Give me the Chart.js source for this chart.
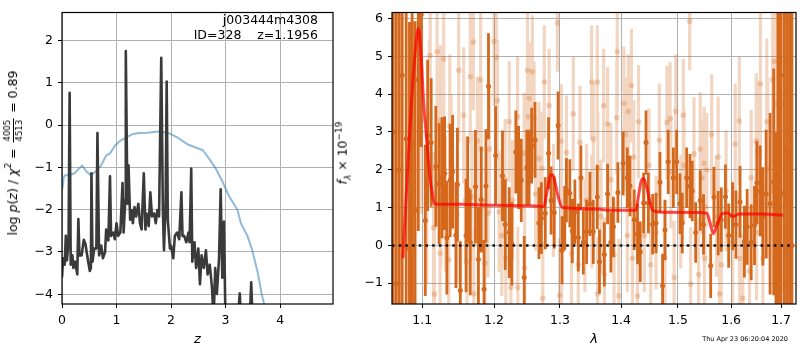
<!DOCTYPE html>
<html>
<head>
<meta charset="utf-8">
<script src="https://cdn.jsdelivr.net/npm/chart.js@4"></script>
<style>
  body { margin: 0; background: #fff; }
  #wrap { position: relative; width: 800px; height: 350px; font-family: 'DejaVu Sans', sans-serif; color: #000; }
  canvas { position: absolute; top: 0; }
  .rot { position: absolute; white-space: nowrap; font-size: 12.5px; transform: translate(-50%, -50%) rotate(-90deg); }
  .frac { display: inline-flex; flex-direction: column; vertical-align: middle; font-size: 8.5px; line-height: 1; text-align: center; margin: 0 2px; }
  .frac .num { border-bottom: 1px solid #000; padding: 0 1px 1px; }
  .frac .den { padding-top: 1px; }
  .note { position: absolute; right: 482px; top: 12px; font-size: 12.5px; text-align: right; line-height: 15px; white-space: pre; }
  .stamp { position: absolute; right: 12px; top: 335px; font-size: 6.5px; white-space: nowrap; }
</style>
</head>
<body>
<div id="wrap">
  <canvas id="pzChart" width="340" height="350" style="left:0"></canvas>
  <canvas id="specChart" width="460" height="350" style="left:340px"></canvas>
  <div class="rot" style="left:13px; top:153px">log <i>p</i>(<i>z</i>) / <i>χ</i><sup style="font-size:9px">2</sup> = <span class="frac"><span class="num">4005</span><span class="den">4513</span></span> = 0.89</div>
  <div class="rot" style="left:343px; top:153px"><i>f</i><sub style="font-size:9px"><i>λ</i></sub> × 10<sup style="font-size:9px">−19</sup></div>
  <div class="note">j003444m4308
ID=328    z=1.1956</div>
  <div class="stamp">Thu Apr 23 06:20:04 2020</div>
</div>
<script>
// ---- left panel: p(z) and chi2 curves ----
const zTicks = [0, 1, 2, 3, 4];
const pzTicks = [-4, -3, -2, -1, 0, 1, 2];

const pzZ = [0, 0.02, 0.05, 0.07, 0.09, 0.12, 0.14, 0.16, 0.19, 0.21,
  0.24, 0.28, 0.30, 0.32, 0.36, 0.40, 0.43, 0.47, 0.51, 0.53,
  0.54, 0.56, 0.59, 0.63, 0.65, 0.68, 0.72, 0.75, 0.79, 0.81,
  0.85, 0.88, 0.90, 0.94, 0.97, 1.00, 1.03, 1.07, 1.11, 1.13,
  1.16, 1.17, 1.20, 1.22, 1.25, 1.28, 1.30, 1.33, 1.36, 1.40,
  1.43, 1.46, 1.50, 1.53, 1.55, 1.59, 1.62, 1.65, 1.69, 1.72,
  1.75, 1.78, 1.82, 1.85, 1.87, 1.90, 1.92, 1.94, 1.98, 2.00,
  2.04, 2.07, 2.11, 2.15, 2.19, 2.21, 2.24, 2.28, 2.32, 2.34,
  2.37, 2.39, 2.43, 2.46, 2.50, 2.53, 2.56, 2.60, 2.64, 2.67,
  2.71, 2.75, 2.78, 2.81, 2.84, 2.88, 2.91, 2.94, 2.97, 3.00,
  3.05, 3.12, 3.20, 3.26, 3.31, 3.40, 3.47, 3.52, 3.60, 3.75, 3.90];
const pzLog = [-3.6, -3.15, -3.3, -2.62, -3.2, -2.77, 0.76, -3.3, -3.08, -3.38,
  -3.23, -3.53, -2.22, -3.08, -3.08, -2.71, -2.81, -3.15, -3.45, -3.38,
  -1.14, -3.23, -2.92, -2.92, -0.19, -3.08, -2.85, -3.15, -3.0, -2.47,
  -2.73, -1.21, -2.62, -2.54, -2.7, -2.32, -2.62, -2.54, -1.37, -2.54,
  -1.78, 1.75, -1.86, -0.95, -2.24, -2.01, -2.32, -1.94, -2.16, -1.86,
  -2.32, -2.47, -1.14, -2.47, -2.09, -2.39, -1.59, -2.16, -2.09, -2.32,
  -2.01, -2.16, 1.59, -2.01, -2.96, -1.86, 1.03, -2.24, -2.92, -2.85,
  -3.15, -2.62, -2.54, -2.7, -1.59, -2.62, -2.62, -2.77, -2.54, -2.77,
  -1.03, -3.23, -2.77, -3.38, -2.92, -3.76, -3.08, -3.38, -2.96, -3.53,
  -3.3, -3.83, -4.6, -3.38, -3.99, -3.15, -1.52, -3.61, -2.28, -4.8,
  -5.5, -6.0, -5.0, -3.98, -5.5, -6.0, -3.72, -5.5, -7, -9, -11];

const chiZ = [0.01, 0.03, 0.05, 0.14, 0.23, 0.29, 0.37, 0.45, 0.53, 0.63,
  0.72, 0.81, 0.88, 0.97, 1.06, 1.18, 1.30, 1.42, 1.57, 1.76,
  1.94, 2.12, 2.31, 2.45, 2.58, 2.70, 2.82, 2.94, 3.06, 3.22,
  3.28, 3.40, 3.49, 3.59, 3.66, 3.71, 3.80, 3.90];
const chiLog = [-1.5, -1.25, -1.19, -1.18, -1.14, -1.06, -0.96, -1.1, -1.19, -1.08,
  -0.95, -0.72, -0.67, -0.49, -0.38, -0.29, -0.21, -0.19, -0.18, -0.15,
  -0.18, -0.3, -0.46, -0.53, -0.59, -0.8, -1.03, -1.33, -1.67, -2.01,
  -2.32, -2.62, -2.96, -3.49, -3.98, -4.25, -5.0, -6.0];

// ---- right panel: spectrum ----
const waveTicks = [1.1, 1.2, 1.3, 1.4, 1.5, 1.6, 1.7];
const fluxTicks = [-1, 0, 1, 2, 3, 4, 5, 6];

// strong points (dark orange)
const specWave = [1.0615, 1.0655, 1.0695, 1.0735, 1.0787, 1.0830, 1.0865, 1.0904, 1.0947, 1.0985,
  1.1040, 1.1072, 1.1119, 1.1182, 1.1226, 1.1267, 1.1302, 1.1333, 1.1379, 1.1412, 1.1458, 1.1479, 1.1519, 1.1600, 1.1623, 1.1659, 1.1733, 1.1775, 1.1815, 1.1856, 1.1883, 1.1920,
  1.2024, 1.2124, 1.2164, 1.2224, 1.2263, 1.2322, 1.2363, 1.2403, 1.2448, 1.2487, 1.2522, 1.2561, 1.2612, 1.2672, 1.2710, 1.2770, 1.2821, 1.2860, 1.2910, 1.2970, 1.3032, 1.3075, 1.3102, 1.3156, 1.3195, 1.3237, 1.3292, 1.3334, 1.3373, 1.3427, 1.3481, 1.3536,
  1.3601, 1.3638, 1.3719, 1.3773, 1.3828, 1.3870, 1.3946, 1.4035, 1.4106, 1.4153, 1.4224, 1.4282, 1.4330, 1.4388, 1.4430, 1.4471, 1.4547, 1.4607, 1.4677, 1.4723, 1.4766, 1.4824, 1.4917, 1.4977, 1.5037, 1.5079, 1.5160, 1.5221, 1.5263, 1.5326,
  1.5411, 1.5473, 1.5608, 1.5669, 1.5750, 1.5810, 1.5890, 1.5952, 1.6028, 1.6094, 1.6174, 1.6260, 1.6314, 1.6394, 1.6460, 1.6508, 1.6574, 1.6628, 1.6694, 1.6774, 1.6848, 1.6894, 1.6934, 1.6990, 1.7060, 1.7120, 1.7180, 1.7225];
const specFlux = [3.0, -1.0, 2.0, 4.5, 2.82, -0.09, 2.72, 0.93, 4.38, 6.1,
  0.66, 2.91, 2.72, 2.09, 1.63, 1.79, 1.91, 0.20, 1.72, 1.95, 0.27, 1.61, -1.19, 0.26, 1.48, 0.08, 1.55, -0.37, 1.21, -1.16, 1.57, 4.21,
  2.38, 1.84, 0.55, 0.34, 0.04, 2.47, 2.06, 1.72, -0.85, 2.06, 2.06, 2.64, 2.79, 0.59, 0.72, 0.85, 2.44, 1.19, 0.87, 3.17, -0.13, 0.72, 1.46, 1.38, 0.38, 0.89, 0.21, 1.79, 0.08, 0.36, 1.10, 0.36,
  1.28, -0.43, -0.24, 1.36, 0.08, 0.49, 1.40, 2.17, 1.79, 1.57, 0.68, 0.30, -0.17, 1.12, 2.72, 1.12, 0.56, 0.59, 1.67, -1.07, 0.41, 2.21, 1.79, 2.21, 1.10, 0.59, 1.79, 1.57, 1.44, 0.34,
  1.19, 0.55, -0.54, 1.28, 0.59, 0.68, 1.29, 0.26, 0.77, 0.55, 1.15, 0.10, 0.49, 0.08, 0.53, 1.66, 1.44, 0.77, 1.36, 1.10, 1.68, -0.51, 2.89, 4.5, 1.38, 2.5, 3.0, 0.0];
const specErr = [9, 9, 8, 8, 6, 6, 5, 5, 4, 3.5,
  2.0, 2.0, 1.7, 1.6, 1.6, 1.6, 1.5, 1.5, 1.5, 1.5, 1.4, 1.5, 1.3, 1.5, 1.4, 1.4, 1.5, 1.4, 1.4, 1.3, 1.5, 1.4,
  1.3, 1.2, 1.2, 1.2, 1.1, 1.1, 1.1, 1.1, 1.1, 1.0, 1.0, 1.0, 1.0, 0.95, 0.95, 0.95, 0.95, 0.9, 0.95, 0.9, 0.9, 0.85, 0.85, 0.9, 0.85, 0.85, 0.9, 0.85, 0.85, 0.85, 0.85, 0.85,
  0.85, 0.85, 0.85, 0.8, 0.8, 0.8, 0.8, 0.85, 0.8, 0.8, 0.8, 0.8, 0.8, 0.8, 0.85, 0.8, 0.8, 0.8, 0.8, 0.85, 0.8, 0.85, 0.8, 0.85, 0.8, 0.8, 0.8, 0.85, 0.8, 0.8,
  0.8, 0.8, 0.85, 0.8, 0.85, 0.85, 0.85, 0.85, 0.9, 0.9, 0.95, 0.95, 1.0, 1.0, 1.05, 1.1, 1.2, 1.3, 1.7, 2.4, 3.0, 3.5, 5, 7, 8, 9, 10, 10];

// weak points (pale orange)
const weakWave = [1.0839, 1.0882, 1.0992, 1.1061, 1.1106, 1.1095, 1.1152, 1.1162, 1.1199, 1.1244, 1.1250, 1.1240, 1.1290, 1.1314, 1.1359, 1.1373, 1.1392, 1.1475, 1.1497, 1.1566, 1.1590, 1.1613, 1.1659, 1.1682, 1.1704, 1.1710, 1.1760, 1.1807, 1.1815, 1.1866, 1.1912, 1.1935,
  1.2000, 1.2034, 1.2049, 1.2075, 1.2113, 1.2164, 1.2173, 1.2224, 1.2248, 1.2273, 1.2348, 1.2352, 1.2448, 1.2455, 1.2497, 1.2512, 1.2522, 1.2572, 1.2597, 1.2621, 1.2672, 1.2721, 1.2731, 1.2755, 1.2830, 1.2896, 1.2960, 1.2994, 1.3021, 1.3025, 1.3102, 1.3183, 1.3211, 1.3292, 1.3318, 1.3399, 1.3427, 1.3508, 1.3512, 1.3536,
  1.3601, 1.3610, 1.3605, 1.3665, 1.3708, 1.3719, 1.3773, 1.3828, 1.3881, 1.3926, 1.3935, 1.3963, 1.4048, 1.4071, 1.4106, 1.4124, 1.4177, 1.4194, 1.4218, 1.4282, 1.4300, 1.4400, 1.4482, 1.4512, 1.4607, 1.4665, 1.4766, 1.4801, 1.4859, 1.4872, 1.4930, 1.4959, 1.5050, 1.5098, 1.5111, 1.5215, 1.5233, 1.5295,
  1.5381, 1.5411, 1.5442, 1.5484, 1.5490, 1.5503, 1.5534, 1.5626, 1.5718, 1.5750, 1.5777, 1.5810, 1.5902, 1.6028, 1.6080, 1.6160, 1.6165, 1.6228, 1.6360, 1.6394, 1.6494, 1.6500, 1.6528, 1.6580, 1.6628, 1.6708, 1.6728, 1.6828, 1.6860, 1.6894, 1.7014];
const weakFlux = [1.57, 0.26, 3.33, 1.19, 5.02, 3.44, 0.47, -1.29, 5.12, 3.30, 1.32, -0.21, 4.93, 1.10, -0.38, 3.15, 2.21, 0.81, 4.63, 3.44, 1.19, -0.43, 4.46, 1.29, 5.38, -1.28, 2.76, 4.38, 2.55, -0.47, 0.85, 2.55,
  5.40, 4.97, 3.83, 0.89, 0.26, 1.74, -0.34, 3.27, -1.11, 1.19, 3.40, -1.11, 2.44, -0.60, 4.63, 3.40, 3.89, 4.59, 3.36, 1.36, 2.30, 2.04, -1.40, 4.32, 3.70, 1.19, 5.89, -1.32, 2.76, -0.13, 2.46, -0.21, 3.48, -0.51, 2.72, 0.26, 1.19, 4.32, 0.89, 2.81,
  4.32, 2.04, -1.28, 0.77, 3.70, -0.77, 3.21, 1.74, -0.26, 3.38, 5.13, -1.33, 3.76, 2.93, 0.26, 3.55, 4.23, -0.34, 2.34, -1.34, 3.27, 0.26, 2.12, -0.51, 0.34, 2.78, -0.32, 3.25, 3.35, 1.95, -0.85, 3.55, 0.89, 3.44, 2.12, 5.93, -1.02, 2.42,
  -0.77, 2.55, 1.79, 2.17, -0.34, 1.02, 2.00, 2.93, 0.77, 2.34, -1.28, -0.51, 1.44, 0.08, 2.68, 3.29, -0.34, -1.40, -0.68, 1.79, 2.76, 0.34, 2.46, 4.27, -0.34, 3.27, 2.04, 4.38, 4.87, 3.74, 3.72];
const weakErr = [2.5, 2.5, 2.5, 2.2, 2.0, 2.0, 2.0, 1.8, 2.0, 2.0, 1.9, 1.9, 2.0, 1.8, 1.8, 1.9, 1.8, 1.8, 1.9, 1.8, 1.7, 1.7, 1.8, 1.7, 1.8, 1.7, 1.7, 1.8, 1.7, 1.7, 1.7, 1.7,
  1.7, 1.7, 1.6, 1.6, 1.6, 1.6, 1.6, 1.6, 1.6, 1.6, 1.6, 1.6, 1.6, 1.6, 1.6, 1.5, 1.5, 1.5, 1.5, 1.5, 1.5, 1.5, 1.5, 1.5, 1.5, 1.5, 1.3, 1.5, 1.5, 1.5, 1.5, 1.5, 1.5, 1.5, 1.5, 1.5, 1.5, 1.5, 1.5, 1.5,
  1.5, 1.5, 1.5, 1.5, 1.5, 1.5, 1.5, 1.5, 1.5, 1.5, 1.6, 1.5, 1.5, 1.5, 1.5, 1.5, 1.5, 1.5, 1.5, 1.5, 1.5, 1.5, 1.5, 1.5, 1.5, 1.5, 1.5, 1.5, 1.5, 1.5, 1.5, 1.5, 1.5, 1.5, 1.5, 1.3, 1.5, 1.5,
  1.5, 1.5, 1.5, 1.5, 1.5, 1.5, 1.5, 1.6, 1.6, 1.6, 1.6, 1.6, 1.6, 1.6, 1.6, 1.7, 1.7, 1.7, 1.7, 1.8, 1.8, 1.8, 1.9, 2.0, 2.0, 2.2, 2.4, 3.0, 3.5, 4.0, 5.0];

// best-fit model
const modelWave = [1.0744, 1.0800, 1.0860, 1.0915, 1.0948, 1.0985, 1.1014, 1.1050, 1.1083, 1.1110,
  1.1130, 1.1162, 1.1227, 1.1500, 1.2000, 1.2500, 1.2746, 1.2800, 1.2850, 1.2886,
  1.2930, 1.2970, 1.3039, 1.3590, 1.3828, 1.4048, 1.4255, 1.4297, 1.4350, 1.4388,
  1.4430, 1.4459, 1.4546, 1.4700, 1.5387, 1.5534, 1.5596, 1.5657, 1.5731, 1.5829,
  1.5934, 1.6040, 1.6160, 1.6628, 1.7040];
const modelFlux = [-0.34, 1.8, 3.9, 5.3, 5.74, 5.0, 3.91, 3.0, 2.21, 1.7,
  1.44, 1.10, 1.09, 1.09, 1.06, 1.05, 1.03, 1.45, 1.85, 1.87,
  1.6, 1.3, 1.00, 0.96, 0.93, 0.93, 0.93, 1.3, 1.72, 1.77,
  1.6, 1.43, 0.93, 0.88, 0.87, 0.85, 0.60, 0.31, 0.55, 0.84,
  0.86, 0.77, 0.83, 0.83, 0.80];

/* ---------------------------------------------------
    helpers
---------------------------------------------------- */
Chart.defaults.font.family = "'DejaVu Sans', sans-serif";
Chart.defaults.font.size = 12.5;
Chart.defaults.color = "#000";

const ORANGE = "rgb(212,104,28)";
const PALE = "rgba(212,104,28,0.27)";
const GRID = "#b0b0b0";

const pairs = (xs, ys) => xs.map((x, i) => ({ x, y: ys[i] }));
const minus = v => String(v).replace("-", "\u2212");

function errorSegments(xs, ys, es) {
  const out = [];
  xs.forEach((x, i) => {
    out.push({ x, y: ys[i] - es[i] }, { x, y: ys[i] + es[i] }, { x, y: null });
  });
  return out;
}

function axis(type, min, max, tickList, fmt, fixSize, title) {
  return {
    type, min, max,
    afterBuildTicks: s => { s.ticks = tickList.map(v => ({ value: v })); },
    afterFit: fixSize,
    grid: { color: GRID, lineWidth: 1, tickColor: "#000", tickLength: 4, drawTicks: true },
    border: { display: false },
    ticks: { callback: fmt, padding: 5, color: "#000", autoSkip: false, maxRotation: 0 },
    title: title || { display: false }
  };
}

const frame = {
  id: "frame",
  afterDraw(chart) {
    const { ctx, chartArea: a } = chart;
    ctx.save();
    ctx.strokeStyle = "#000";
    ctx.lineWidth = 1.2;
    ctx.strokeRect(a.left, a.top, a.right - a.left, a.bottom - a.top);
    ctx.restore();
  }
};

const zeroLine = {
  id: "zeroLine",
  afterDatasetsDraw(chart) {
    const { ctx, chartArea: a, scales } = chart;
    const y = scales.y.getPixelForValue(0);
    ctx.save();
    ctx.strokeStyle = "#111";
    ctx.lineWidth = 2.5;
    ctx.setLineDash([2.5, 4.2]);
    ctx.beginPath();
    ctx.moveTo(a.left, y);
    ctx.lineTo(a.right - 2, y);
    ctx.stroke();
    ctx.restore();
  }
};

const common = {
  responsive: false,
  animation: false,
  events: [],
  plugins: { legend: { display: false }, tooltip: { enabled: false } }
};

/* ---------------------------------------------------
    LEFT: log p(z)
---------------------------------------------------- */
new Chart(document.getElementById("pzChart"), {
  type: "line",
  data: {
    datasets: [
      {
        data: pairs(pzZ, pzLog),
        borderColor: "#3a3a3a",
        borderWidth: 2.6,
        borderJoinStyle: "round",
        pointRadius: 0,
        order: 0
      },
      {
        data: pairs(chiZ, chiLog),
        borderColor: "rgba(31,119,180,0.5)",
        borderWidth: 2,
        pointRadius: 0,
        order: 1
      }
    ]
  },
  options: {
    ...common,
    layout: { padding: { left: 0, right: 7, top: 2, bottom: 0 } },
    scales: {
      x: axis("linear", 0, 4.97, zTicks, v => minus(v), s => { s.height = 46; },
        { display: true, text: "z", font: { size: 13, style: "italic" }, padding: { top: 0, bottom: 3 } }),
      y: axis("linear", -4.23, 2.66, pzTicks, v => minus(v), s => { s.width = 62; })
    }
  },
  plugins: [frame]
});

/* ---------------------------------------------------
    RIGHT: spectrum
---------------------------------------------------- */
new Chart(document.getElementById("specChart"), {
  type: "line",
  data: {
    datasets: [
      {
        data: pairs(modelWave, modelFlux),
        borderColor: "rgba(255,0,0,0.72)",
        borderWidth: 3,
        cubicInterpolationMode: "monotone",
        pointRadius: 0,
        order: 0
      },
      {
        data: pairs(specWave, specFlux),
        showLine: false,
        pointRadius: 2.5,
        pointBackgroundColor: ORANGE,
        pointBorderWidth: 0,
        order: 1
      },
      {
        data: errorSegments(specWave, specFlux, specErr),
        borderColor: ORANGE,
        borderWidth: 2.8,
        borderCapStyle: "butt",
        spanGaps: false,
        pointRadius: 0,
        order: 2
      },
      {
        data: pairs(weakWave, weakFlux),
        showLine: false,
        pointRadius: 2.8,
        pointBackgroundColor: PALE,
        pointBorderWidth: 0,
        order: 3
      },
      {
        data: errorSegments(weakWave, weakFlux, weakErr),
        borderColor: PALE,
        borderWidth: 3.2,
        borderCapStyle: "butt",
        spanGaps: false,
        pointRadius: 0,
        order: 4
      }
    ]
  },
  options: {
    ...common,
    layout: { padding: { left: 0, right: 1, top: 2, bottom: 0 } },
    scales: {
      x: axis("logarithmic", 1.0603, 1.731, waveTicks, v => Number(v).toFixed(1), s => { s.height = 46; },
        { display: true, text: "λ", font: { size: 13, style: "italic" }, padding: { top: 0, bottom: 3 } }),
      y: axis("linear", -1.55, 6.16, fluxTicks, v => minus(v), s => { s.width = 52; })
    }
  },
  plugins: [zeroLine, frame]
});
</script>
</body>
</html>
